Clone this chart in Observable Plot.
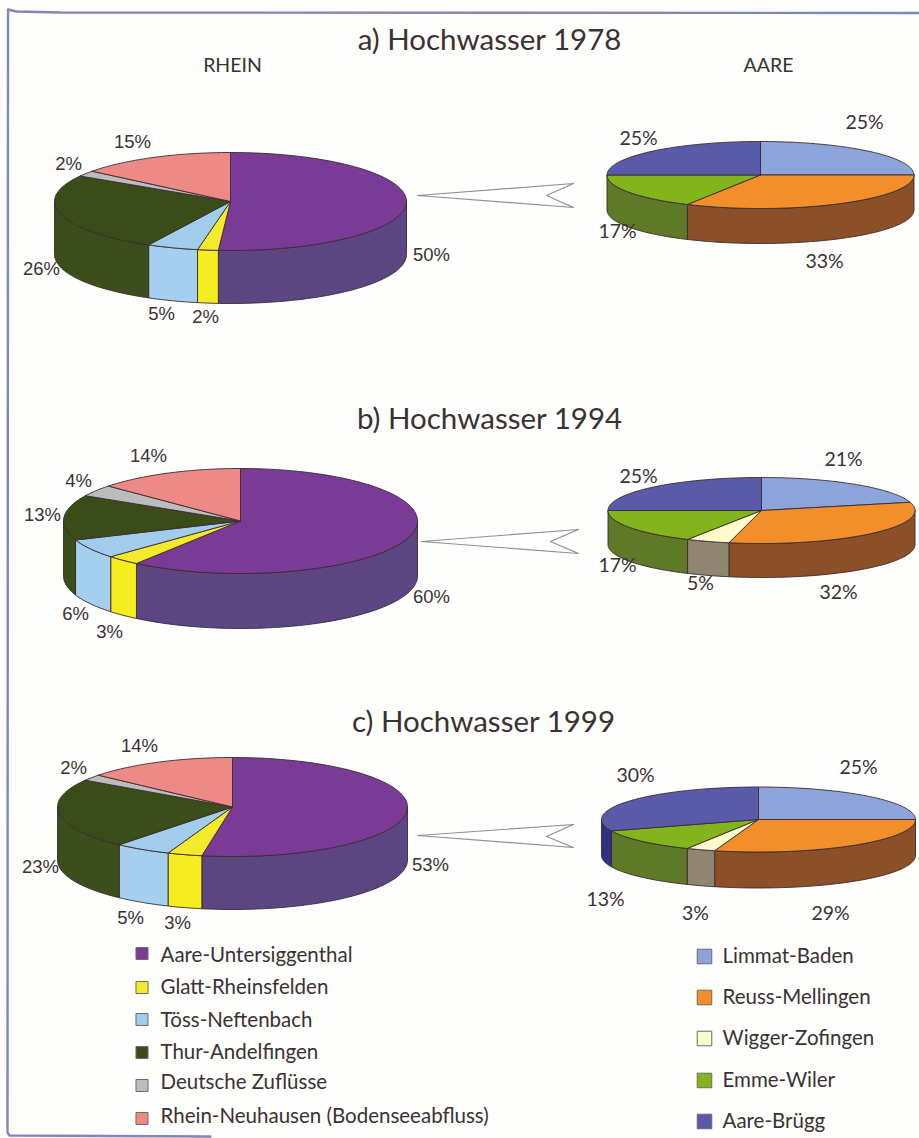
<!DOCTYPE html>
<html lang="de">
<head>
<meta charset="utf-8">
<title>Hochwasser 1978, 1994, 1999</title>
<script src="https://cdn.jsdelivr.net/npm/d3@7"></script>
<script src="https://cdn.jsdelivr.net/npm/@observablehq/plot@0.6"></script>
<style>
  html, body { margin: 0; padding: 0; background: #fefefd; }
  svg { display: block; background: transparent !important; }
</style>
</head>
<body>
<div id="chart"></div>
<script>
// ---------- data ----------
const rheinNames = ["Aare-Untersiggenthal", "Glatt-Rheinsfelden", "Töss-Neftenbach", "Thur-Andelfingen", "Deutsche Zuflüsse", "Rhein-Neuhausen (Bodenseeabfluss)"];
const aareNames = ["Limmat-Baden", "Reuss-Mellingen", "Wigger-Zofingen", "Emme-Wiler", "Aare-Brügg"];
const years = ["a) Hochwasser 1978", "b) Hochwasser 1994", "c) Hochwasser 1999"];

const rhein1978 = [51.1, 1.9, 4.7, 26.0, 1.9, 14.4];
const rhein1994 = [60.0, 3.1, 6.0, 13.9, 3.6, 13.4];
const rhein1999 = [52.8, 3.2, 5.2, 22.9, 2.0, 13.9];
const aare1978 = [25.0, 32.9, 0, 17.1, 25.0];
const aare1994 = [21.0, 32.4, 4.6, 17.0, 25.0];
const aare1999 = [25.0, 29.5, 3.0, 11.8, 30.7];

// printed percentage labels
const rhein1978Labels = ["50%", "2%", "5%", "26%", "2%", "15%"];
const rhein1994Labels = ["60%", "3%", "6%", "13%", "4%", "14%"];
const rhein1999Labels = ["53%", "3%", "5%", "23%", "2%", "14%"];
const aare1978Labels = ["25%", "33%", "", "17%", "25%"];
const aare1994Labels = ["21%", "32%", "5%", "17%", "25%"];
const aare1999Labels = ["25%", "29%", "3%", "13%", "30%"];

// ---------- styles ----------
const rheinTop = ["#7a3a96", "#f3ea2c", "#a0cdec", "#3a4c18", "#bcbcbc", "#ee8a86"];
const rheinSide = ["#5b4681", "#f5ee1e", "#a4d0ee", "#3c4e1c", "#a0a0a0", "#c46a66"];
const aareTop = ["#8ba4d9", "#f28f2a", "#fdfbc9", "#82b41c", "#5a5aab"];
const aareSide = ["#5f78aa", "#8c5028", "#8f8572", "#5e7a26", "#2f3086"];
const ink = "#3b3132";
const edge = "#3a2a30";
const frame = "#7f87b8";
const sans = "Lato, 'Open Sans', sans-serif";
const arial = "'Liberation Sans', Arial, sans-serif";

// ---------- layout (pixels of the 919x1138 canvas) ----------
const pies = [
  {id: "r78", values: rhein1978, top: rheinTop, side: rheinSide, cx: 230, cy: 201, rx: 176, ry: 49, depth: 53},
  {id: "r94", values: rhein1994, top: rheinTop, side: rheinSide, cx: 240, cy: 520.5, rx: 177, ry: 52.5, depth: 55},
  {id: "r99", values: rhein1999, top: rheinTop, side: rheinSide, cx: 232, cy: 806.5, rx: 175, ry: 49.5, depth: 53},
  {id: "a78", values: aare1978, top: aareTop, side: aareSide, cx: 760, cy: 174.5, rx: 153.5, ry: 33.5, depth: 35},
  {id: "a94", values: aare1994, top: aareTop, side: aareSide, cx: 761, cy: 510, rx: 153.5, ry: 33, depth: 34},
  {id: "a99", values: aare1999, top: aareTop, side: aareSide, cx: 758, cy: 819, rx: 157, ry: 32.5, depth: 36}
];
const titlePos = [[489, 40], [489, 419], [483, 722]];
const riverHeads = [{text: "RHEIN", x: 232, y: 65}, {text: "AARE", x: 768, y: 65}];
const calloutPos = [
  [[417, 195], [573, 183], [546, 195], [573, 207], [417, 195]],
  [[421, 541], [578, 529], [550, 541], [578, 553], [421, 541]],
  [[417, 835], [573, 824], [546, 836], [573, 847], [417, 835]]
];
const framePath = [[919, 12.5], [60, 12], [16, 11], [7.5, 9], [7, 1132], [9, 1135], [210, 1136]];

const rheinLabelPos = [
  [[431, 255], [205, 317], [161, 314], [41, 269], [68, 164], [132, 142]],
  [[431, 597], [109, 632], [75, 614], [42, 515], [78, 481], [148, 456]],
  [[430, 865], [177, 923], [130, 918], [40, 867], [73, 768], [139, 746]]
];
const aareLabelPos = [
  [[864, 122], [824, 261], null, [617, 231], [638, 138]],
  [[843, 459], [838, 592], [700, 583], [617, 565], [638, 476]],
  [[858, 767], [830, 913], [695, 913], [605, 899], [635, 775]]
];
const rheinLabelSets = [rhein1978Labels, rhein1994Labels, rhein1999Labels];
const aareLabelSets = [aare1978Labels, aare1994Labels, aare1999Labels];

const rheinLegendY = [953, 987, 1019, 1052, 1085, 1118];
const rheinLegendTextY = [955, 987, 1020, 1052, 1082, 1116];
const aareLegendY = [956, 997, 1038, 1080, 1121];

// ---------- geometry built from the values ----------
const rad = Math.PI / 180;
const at = (p, deg, drop = 0) => ({
  x: p.cx + p.rx * Math.sin(deg * rad),
  y: p.cy - p.ry * Math.cos(deg * rad) + drop
});
function arc(p, a, b, drop = 0) {
  const n = Math.max(1, Math.ceil((b - a) / 1.5));
  return d3.range(n + 1).map((i) => at(p, a + (b - a) * i / n, drop));
}
const topRows = [], sideRows = [];
for (const p of pies) {
  const total = d3.sum(p.values);
  let start = 0;
  p.values.forEach((v, i) => {
    const end = start + v / total * 360;
    if (v > 0) {
      const key = `${p.id}-${i}`;
      const rim = arc(p, start, end);
      const first = {x: p.cx, y: p.cy};
      for (const q of [first, ...rim, first]) topRows.push({...q, key, color: p.top[i]});
      const a = Math.max(start, 90), b = Math.min(end, 270);
      if (b > a) {
        const upper = arc(p, a, b);
        const lower = arc(p, a, b, p.depth).reverse();
        for (const q of [...upper, ...lower, upper[0]]) sideRows.push({...q, key, color: p.side[i]});
      }
    }
    start = end;
  });
}
const calloutRows = calloutPos.flatMap((pts, k) => pts.map(([x, y]) => ({x, y, key: k})));
const frameRows = framePath.map(([x, y]) => ({x, y}));
const titleRows = years.map((text, i) => ({text, x: titlePos[i][0], y: titlePos[i][1]}));
const rheinLabelRows = rheinLabelSets.flatMap((set, k) => set.map((text, i) => ({text, x: rheinLabelPos[k][i][0], y: rheinLabelPos[k][i][1]})));
const aareLabelRows = aareLabelSets.flatMap((set, k) => set.flatMap((text, i) => text ? [{text, x: aareLabelPos[k][i][0], y: aareLabelPos[k][i][1]}] : []));
const rheinLegend = rheinNames.map((name, i) => ({name, color: rheinTop[i], y: rheinLegendY[i], ty: rheinLegendTextY[i]}));
const aareLegend = aareNames.map((name, i) => ({name, color: aareTop[i], y: aareLegendY[i], ty: aareLegendY[i]}));

// ---------- chart ----------
const chart = Plot.plot({
  width: 919,
  height: 1138,
  margin: 0,
  x: {domain: [0, 919], range: [0, 919], axis: null},
  y: {domain: [0, 1138], range: [0, 1138], axis: null},
  color: {type: "identity"},
  marks: [
    Plot.line(frameRows, {x: "x", y: "y", stroke: frame, strokeWidth: 2.4, curve: "linear"}),
    Plot.text(titleRows, {x: "x", y: "y", text: "text", fill: ink, fontFamily: sans, fontSize: 29.5}),
    Plot.text(riverHeads, {x: "x", y: "y", text: "text", fill: ink, fontFamily: sans, fontSize: 19.5}),
    // Rhein labels go under the pies, which cut into them as in the original
    Plot.text(rheinLabelRows, {x: "x", y: "y", text: "text", fill: ink, fontFamily: arial, fontSize: 18.5}),
    Plot.line(calloutRows, {x: "x", y: "y", z: "key", fill: "#ffffff", stroke: "#8f8f8f", strokeWidth: 1.2}),
    Plot.line(sideRows, {x: "x", y: "y", z: "key", fill: "color", stroke: edge, strokeWidth: 0.9}),
    Plot.line(topRows, {x: "x", y: "y", z: "key", fill: "color", stroke: edge, strokeWidth: 0.9}),
    Plot.text(aareLabelRows, {x: "x", y: "y", text: "text", fill: ink, fontFamily: sans, fontSize: 19.5}),
    Plot.dot(rheinLegend, {x: () => 141.5, y: "y", r: 6.8, symbol: "square", fill: "color", stroke: "#6d6a6a", strokeWidth: 1}),
    Plot.text(rheinLegend, {x: () => 160, y: "ty", text: "name", textAnchor: "start", fill: ink, fontFamily: sans, fontSize: 20.5}),
    Plot.dot(aareLegend, {x: () => 704, y: "y", r: 8.2, symbol: "square", fill: "color", stroke: "#6d6a6a", strokeWidth: 1}),
    Plot.text(aareLegend, {x: () => 722, y: "ty", text: "name", textAnchor: "start", fill: ink, fontFamily: sans, fontSize: 20.5})
  ]
});
document.getElementById("chart").append(chart);
</script>
</body>
</html>
